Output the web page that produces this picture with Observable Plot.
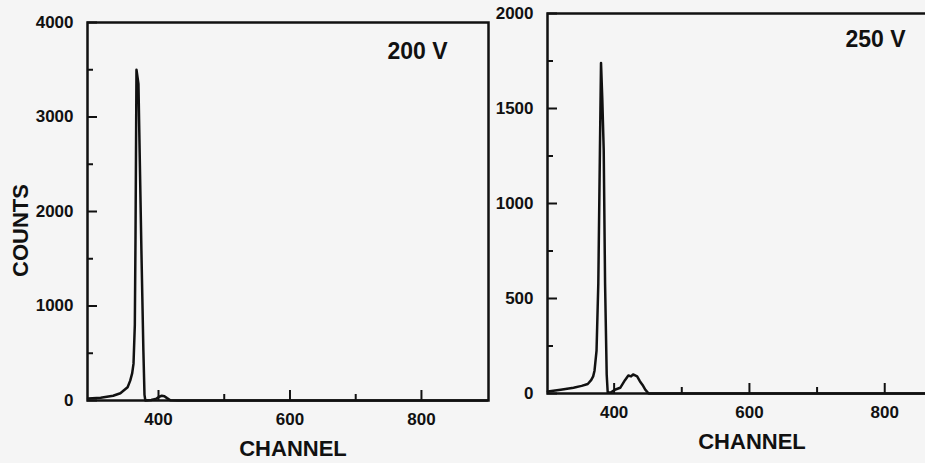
<!DOCTYPE html>
<html>
<head>
<meta charset="utf-8">
<script src="https://cdn.jsdelivr.net/npm/d3@7"></script>
<script src="https://cdn.jsdelivr.net/npm/@observablehq/plot@0.6"></script>
<style>
  html, body { margin: 0; padding: 0; background: #f5f5f5; }
  #wrap { position: relative; width: 925px; height: 463px; overflow: hidden; background: #f5f5f5; }
  #left, #right { position: absolute; top: 0; width: 500px; height: 463px; }
  #left { left: 0; }
  #right { left: 480px; }
  #wrap svg { max-width: none !important; }
</style>
</head>
<body>
<div id="wrap"><div id="left"></div><div id="right"></div></div>
<script>
// ---- Data ----
// Left panel: 200 V
const channels200 = [293, 312, 331, 342, 347, 353, 357, 360, 362, 364, 365, 366.5, 369.5, 374, 377, 378.7, 380, 389, 397, 401, 405, 409, 413, 418, 430, 900];
const counts200   = [20, 30, 50, 77, 105, 140, 210, 290, 390, 800, 1700, 3500, 3350, 1590, 530, 60, 0, 5, 20, 40, 50, 45, 25, 3, 0, 0];
// Right panel: 250 V
const channels250 = [302, 321, 340, 352, 361, 366, 369, 371, 374, 376.6, 379, 380.6, 382.5, 384.6, 386.6, 389, 390.5, 395, 401, 409, 416, 421, 425, 428, 431, 434, 438, 442, 446, 451, 470, 940];
const counts250   = [10, 20, 30, 40, 50, 70, 90, 120, 226, 579, 1279, 1740, 1550, 1279, 579, 100, 5, 5, 20, 30, 70, 95, 90, 100, 95, 90, 65, 45, 20, 0, 0, 0];

// Tick values and labels
const xTickLabels = [400, 600, 800];
const xMinorTicks = [500, 700];
const yTickLabels200 = [0, 1000, 2000, 3000, 4000];
const yMinorTicks200 = [500, 1500, 2500, 3500];
const yTickLabels250 = [0, 500, 1000, 1500, 2000];
const yMinorTicks250 = [250, 750, 1250, 1750];
const xDomain200 = [292, 902];
const xDomain250 = [301.5, 912];
const yDomain200 = [0, 4000];
const yDomain250 = [0, 2000];
const xTitle = "CHANNEL";
const yTitle = "COUNTS";
const panelLabels = ["200 V", "250 V"];

const data200 = channels200.map((c, i) => ({channel: c, counts: counts200[i]}));
const data250 = channels250.map((c, i) => ({channel: c, counts: counts250[i]}));

const ink = "#111";
const font = "'Liberation Sans', Arial, Helvetica, sans-serif";

function panel({data, xDomain, yDomain, yLabels, yMinor, width, height, margins, extras}) {
  const innerW = width - margins.left - margins.right;
  const innerH = height - margins.top - margins.bottom;
  return Plot.plot({
    width, height,
    marginLeft: margins.left, marginRight: margins.right,
    marginTop: margins.top, marginBottom: margins.bottom,
    x: {domain: xDomain},
    y: {domain: yDomain},
    style: {background: "transparent", overflow: "visible", maxWidth: "none", fontFamily: font, fontSize: "17px", fontWeight: "bold", color: ink},
    marks: [
      Plot.frame({stroke: ink, strokeWidth: 2.5}),
      // inward major / minor ticks
      Plot.tickY(yLabels, {y: d => d, stroke: ink, strokeWidth: 2, insetRight: innerW - 10}),
      Plot.tickY(yMinor, {y: d => d, stroke: ink, strokeWidth: 2, insetRight: innerW - 6}),
      Plot.tickX(xTickLabels, {x: d => d, stroke: ink, strokeWidth: 2, insetTop: innerH - 10}),
      Plot.tickX(xMinorTicks, {x: d => d, stroke: ink, strokeWidth: 2, insetTop: innerH - 6}),
      Plot.axisY({ticks: yLabels, tickSize: 0, tickPadding: 14, tickFormat: d => String(d), label: null}),
      Plot.axisX({ticks: xTickLabels, tickSize: 0, tickPadding: 12, tickFormat: d => String(d), label: null}),
      Plot.line(data, {x: "channel", y: "counts", stroke: ink, strokeWidth: 2.5, strokeLinejoin: "round"}),
      ...extras
    ]
  });
}

const left = panel({
  data: data200, xDomain: xDomain200, yDomain: yDomain200,
  yLabels: yTickLabels200, yMinor: yMinorTicks200,
  width: 500, height: 463,
  margins: {left: 87, right: 12, top: 22, bottom: 63},
  extras: [
    Plot.text([panelLabels[0]], {frameAnchor: "top-right", textAnchor: "end", lineAnchor: "middle", dx: -41, dy: 29, fontSize: 23, fontWeight: "bold", fill: ink}),
    Plot.text([xTitle], {frameAnchor: "bottom", textAnchor: "middle", lineAnchor: "middle", dx: 5, dy: 48, fontSize: 22, fontWeight: "bold", fill: ink}),
    Plot.text([yTitle], {frameAnchor: "left", textAnchor: "middle", lineAnchor: "middle", rotate: -90, dx: -67, dy: 19, fontSize: 22, fontWeight: "bold", fill: ink})
  ]
});

const right = panel({
  data: data250, xDomain: xDomain250, yDomain: yDomain250,
  yLabels: yTickLabels250, yMinor: yMinorTicks250,
  width: 500, height: 463,
  margins: {left: 67, right: 20, top: 13, bottom: 70},
  extras: [
    Plot.text([panelLabels[1]], {frameAnchor: "top-left", textAnchor: "start", lineAnchor: "middle", dx: 298, dy: 26, fontSize: 23, fontWeight: "bold", fill: ink}),
    Plot.text([xTitle], {frameAnchor: "bottom", textAnchor: "middle", lineAnchor: "middle", dx: -2, dy: 48, fontSize: 22, fontWeight: "bold", fill: ink})
  ]
});

document.getElementById("left").appendChild(left);
document.getElementById("right").appendChild(right);
</script>
</body>
</html>
